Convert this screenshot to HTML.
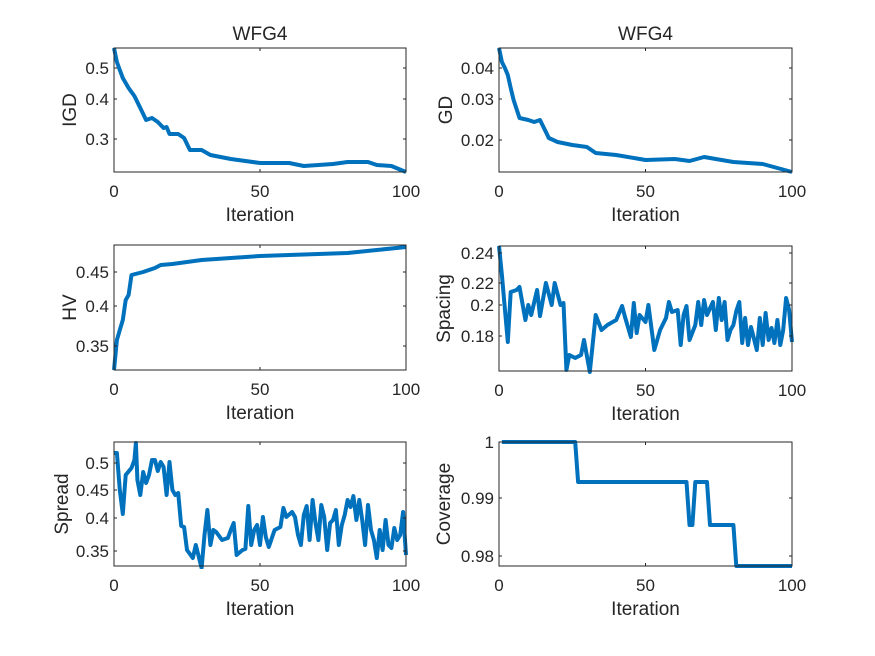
<!DOCTYPE html>
<html><head><meta charset="utf-8"><style>
body{margin:0;background:#fff}
svg{display:block}
text{font-family:"Liberation Sans",sans-serif;fill:#262626}
.t{font-size:17px}
.l{font-size:19px}
</style></head><body>
<svg id="s" width="875" height="656" xmlns="http://www.w3.org/2000/svg"></svg>
<script>
const S=document.getElementById('s');let h='<rect width="875" height="656" fill="#fff"/>';
function ax(x0,x1,y0,y1,yt,lab,data,lx,title){
 const X=i=>x0+(x1-x0)*i/100;
 let p=data.map(d=>X(d[0]).toFixed(1)+','+d[1]).join(' ');
 h+=`<defs><clipPath id="c${x0}${y0}"><rect x="${x0-2}" y="${y0-3}" width="${x1-x0+4}" height="${y1-y0+6}"/></clipPath></defs>`;
 h+=`<polyline clip-path="url(#c${x0}${y0})" points="${p}" fill="none" stroke="#0072BD" stroke-width="4" stroke-linejoin="round"/>`;
 h+=`<rect x="${x0}" y="${y0}" width="${x1-x0}" height="${y1-y0}" fill="none" stroke="#262626" stroke-width="1"/>`;
 for(const i of [0,50,100]){const x=X(i);h+=`<line x1="${x}" x2="${x}" y1="${y1}" y2="${y1-3}" stroke="#262626"/><line x1="${x}" x2="${x}" y1="${y0}" y2="${y0+3}" stroke="#262626"/><text class="t" x="${x}" y="${y1+25}" text-anchor="middle">${i}</text>`;}
 for(const [v,y] of yt){h+=`<line x1="${x0}" x2="${x0+3}" y1="${y}" y2="${y}" stroke="#262626"/><line x1="${x1}" x2="${x1-3}" y1="${y}" y2="${y}" stroke="#262626"/><text class="t" x="${x0-5}" y="${y+6}" text-anchor="end">${v}</text>`;}
 h+=`<text class="l" x="${(x0+x1)/2}" y="${y1+49}" text-anchor="middle">Iteration</text>`;
 const cy=(y0+y1)/2;h+=`<text class="l" transform="translate(${lx},${cy}) rotate(-90)" text-anchor="middle">${lab}</text>`;
 if(title)h+=`<text class="l" x="${(x0+x1)/2}" y="${y0-8}" text-anchor="middle">${title}</text>`;
}
ax(114,406,48,172,[["0.5",68],["0.4",99],["0.3",139]],"IGD",
[[0,48],[1,62],[2,70],[3,78],[5,88],[7,96],[9,108],[11,120],[13,118],[15,122],[17,128],[18,127],[19,134],[22,134],[24,138],[26,150],[30,150],[33,155],[40,159],[50,163],[60,163],[65,166],[75,164],[80,162],[87,162],[90,165],[95,166],[100,172]],76,"WFG4");
ax(499,792,48,172,[["0.04",68],["0.03",99],["0.02",140]],"GD",
[[0,48],[1,62],[2,68],[3,75],[4,88],[5,100],[7,118],[10,120],[12,122],[14,120],[16,132],[17,138],[20,142],[25,145],[30,147],[33,153],[40,155],[50,160],[60,159],[65,161],[70,157],[80,162],[90,164],[100,172]],452,"WFG4");
ax(114,406,245,370,[["0.45",272],["0.4",306],["0.35",346]],"HV",
[[0,370],[1,340],[2,330],[3,320],[4,300],[5,295],[6,275],[10,272],[12,270],[14,268],[16,265],[20,264],[25,262],[30,260],[40,258],[50,256],[60,255],[70,254],[80,253],[90,250],[100,247]],76);
ax(499,792,246,371,[["0.24",253],["0.22",283],["0.2",305],["0.18",336]],"Spacing",
[[0,246],[1,275],[3,342],[4,292],[6,290],[7,287],[9,320],[10,305],[11,315],[13,290],[14,316],[16,283],[18,305],[19,283],[21,305],[22,303],[23,370],[24,355],[26,358],[28,355],[29,340],[31,372],[33,315],[35,330],[37,325],[40,320],[42,306],[43,317],[45,337],[46,303],[47,333],[48,315],[50,322],[51,305],[53,350],[55,330],[57,318],[58,302],[59,312],[61,310],[62,345],[63,315],[64,306],[65,340],[67,325],[68,302],[69,325],[70,300],[71,315],[73,302],[74,330],[75,298],[76,320],[77,302],[78,340],[79,330],[80,325],[81,311],[82,302],[83,343],[84,318],[85,345],[86,327],[88,350],[89,318],[90,345],[91,313],[92,340],[93,328],[94,343],[95,320],[96,345],[97,330],[98,298],[99,310],[100,342]],450);
ax(114,406,442,566,[["0.5",463],["0.45",490],["0.4",518],["0.35",551]],"Spread",
[[0,453],[1,453],[2,490],[3,514],[4,475],[6,468],[7,460],[7.5,443],[8,480],[9,495],[10,472],[11,483],[12,475],[13,460],[14,460],[15,471],[16,462],[17,467],[18,495],[19,462],[20,490],[21,495],[22,493],[23,526],[24,527],[25,550],[27,558],[28,545],[30,568],[31,535],[32,510],[33,545],[34,530],[35,532],[37,540],[39,538],[40,530],[41,523],[42,555],[44,550],[45,549],[46,506],[47,545],[48,530],[49,525],[50,545],[51,517],[52,537],[53,547],[55,530],[57,527],[58,508],[59,517],[61,512],[62,517],[63,535],[64,545],[65,515],[66,506],[67,540],[68,500],[69,523],[70,540],[71,505],[72,517],[73,550],[74,523],[75,520],[76,510],[77,545],[78,525],[79,515],[80,500],[81,507],[82,496],[83,520],[84,500],[85,520],[86,545],[87,505],[88,530],[89,540],[90,558],[91,530],[92,550],[93,520],[94,545],[95,548],[96,528],[97,540],[98,535],[99,512],[100,555]],68);
ax(499,792,442,566,[["1",442],["0.99",498],["0.98",556]],"Coverage",
[[1,442],[26,442],[27,482],[64,482],[65,525],[66,525],[67,482],[71,482],[72,525],[80,525],[81,566],[100,566]],450);
S.innerHTML=h;
</script>
</body></html>
